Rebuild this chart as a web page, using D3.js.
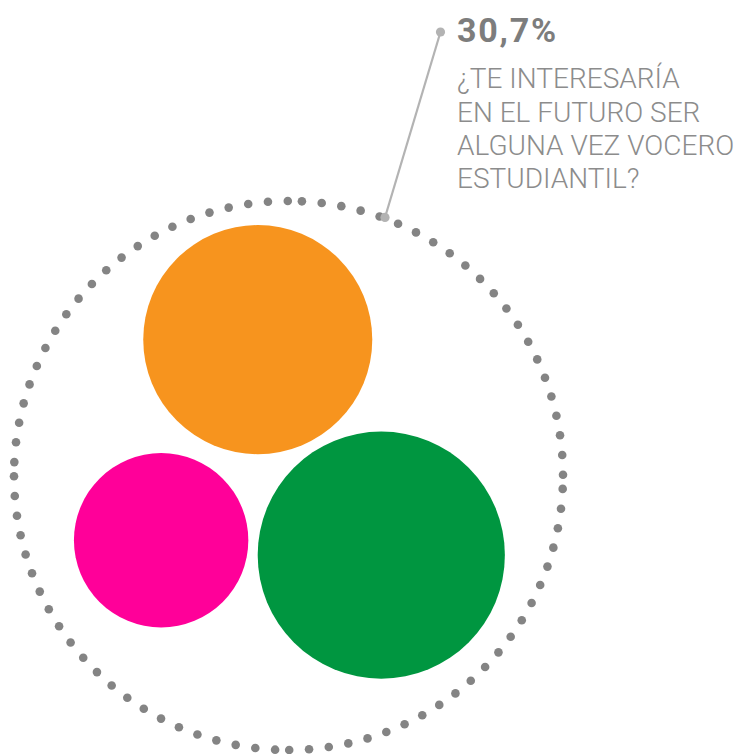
<!DOCTYPE html>
<html>
  <head>
    <meta charset="utf-8">
    <title>Vocero estudiantil</title>
    <script src="https://cdn.jsdelivr.net/npm/d3@7/dist/d3.min.js"></script>
    <style>
      body { margin: 0; background: #fff; }
    </style>
  </head>
  <body>
    <svg width="739" height="754"></svg>
    <script>

      // data
      const categories = ["a", "b", "c"];
      const values = [36.4, 21.1, 42.4];
      const colors = ["#f7941e", "#ff0099", "#009640"];
      const highlight = 30.7;
      const question = ["¿TE INTERESARÍA", "EN EL FUTURO SER", "ALGUNA VEZ VOCERO", "ESTUDIANTIL?"];

      // layout (in units of the outer ring radius)
      const layout = [[-0.112, -0.495], [-0.464, 0.236], [0.338, 0.290]];

      const svg = d3.select("svg");

      const cx = 288.5, cy = 475.5, R = 274.5;

      const x = d3.scaleLinear().domain([-1, 1]).range([cx - R, cx + R]);
      const y = d3.scaleLinear().domain([-1, 1]).range([cy - R, cy + R]);
      const r = d3.scaleSqrt().domain([0, d3.max(values)]).range([0, 123.6]);

      const bubbles = categories.map((c, i) => ({
        id: c,
        value: values[i],
        color: colors[i],
        px: layout[i][0],
        py: layout[i][1]
      }));

      // dotted ring, drawn as four quarter arcs
      const rot = 2.8 * Math.PI / 180;
      const step = 19.86 / R;
      const dots = [];
      d3.range(4).forEach(q => {
        d3.range(22).forEach(k => {
          const a = q * Math.PI / 2 + rot + k * step;
          dots.push({ a });
        });
      });

      svg.append("g")
        .selectAll("circle")
        .data(dots)
        .enter()
        .append("circle")
          .attr("cx", d => cx + R * Math.sin(d.a))
          .attr("cy", d => cy - R * Math.cos(d.a))
          .attr("r", 4.3)
          .attr("fill", "#848484");

      svg.append("g")
        .selectAll("circle")
        .data(bubbles, d => d.id)
        .enter()
        .append("circle")
          .attr("cx", d => x(d.px))
          .attr("cy", d => y(d.py))
          .attr("r", d => r(d.value))
          .attr("fill", d => d.color);

      // leader line
      const la = 20.5 * Math.PI / 180;
      const p0 = [cx + (R + 1) * Math.sin(la), cy - (R + 1) * Math.cos(la)];
      const p1 = [440.5, 32];
      const leader = svg.append("g").attr("fill", "#b3b3b3");
      leader.append("line")
        .attr("x1", p0[0]).attr("y1", p0[1])
        .attr("x2", p1[0]).attr("y2", p1[1])
        .attr("stroke", "#b3b3b3")
        .attr("stroke-width", 2.2);
      leader.selectAll("circle")
        .data([p0, p1])
        .enter()
        .append("circle")
          .attr("cx", d => d[0])
          .attr("cy", d => d[1])
          .attr("r", 4.6);

      // label
      const fmt = d3.formatLocale({ decimal: ",", thousands: ".", grouping: [3], currency: ["", ""] }).format(".1f");

      svg.append("text")
        .attr("x", 457)
        .attr("y", 41.5)
        .attr("font-family", "Roboto, sans-serif")
        .attr("font-weight", 700)
        .attr("font-size", 34)
        .attr("letter-spacing", 1.8)
        .attr("fill", "#7d7d7d")
        .text(fmt(highlight) + "%");

      svg.append("g")
        .selectAll("text")
        .data(question)
        .enter()
        .append("text")
          .attr("x", 457)
          .attr("y", (d, i) => 88.3 + i * 33.3)
          .attr("font-family", "Roboto, sans-serif")
          .attr("font-weight", 300)
          .attr("font-size", 28)
          .attr("fill", "#8c8c8c")
          .text(d => d);

    </script>
  </body>
</html>
